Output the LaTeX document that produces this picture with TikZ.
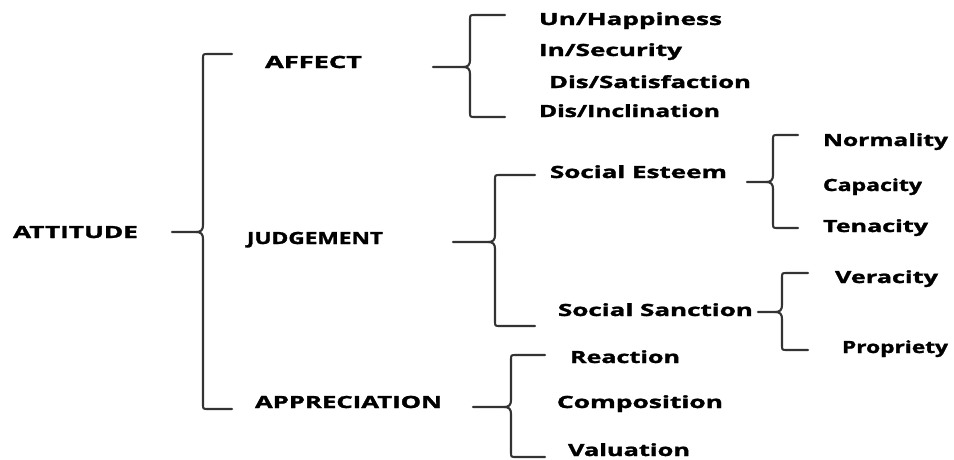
\documentclass[tikz,border=0pt]{standalone}
\usepackage{fontspec}
\usepackage{graphicx}
\setmainfont{Open Sans}[BoldFont={* Bold}, BoldFeatures={FakeBold=1.4}]
\tikzset{
  lbl/.style={anchor=base west, inner sep=0pt, outer sep=0pt, font=\fontsize{16.8}{20}\selectfont\bfseries, text=black},
  bracestyle/.style={draw=black!80, line width=2.1pt, line cap=round, line join=round}
}
\newcommand\tx[2]{\resizebox{#1pt}{\height}{#2}}
% #1=X vertical, #2=top, #3=bottom, #4=tip y, #5=arm end x, #6=stub start x
\newcommand\mybrace[6]{%
  \draw[bracestyle] (#5,#2) -- (#1+5,#2) .. controls (#1,#2) .. (#1,#2+5) -- (#1,#4-7)
     .. controls (#1,#4-2) and (#1-2,#4) .. (#1-7,#4) -- (#6,#4);
  \draw[bracestyle] (#1-7,#4) .. controls (#1-2,#4) and (#1,#4+2) .. (#1,#4+7) -- (#1,#3-5)
     .. controls (#1,#3) .. (#1+5,#3) -- (#5,#3);
}
\begin{document}
\begin{tikzpicture}[x=1pt,y=-1pt]
\useasboundingbox[fill=white] (0,0) rectangle (954,459);
% nodes
\node[lbl] (att) at (13,238) {\tx{125}{ATTITUDE}};
\node[lbl] (aff) at (265,68) {\tx{97}{AFFECT}};
\node[lbl] (jud) at (247,244) {\tx{136}{JUDGEMENT}};
\node[lbl] (app) at (255,408) {\tx{187}{APPRECIATION}};
\node[lbl] (unh) at (539,25) {\tx{183}{Un/Happiness}};
\node[lbl] (ins) at (539,56) {\tx{143}{In/Security}};
\node[lbl] (dss) at (549,88) {\tx{202}{Dis/Satisfaction}};
\node[lbl] (dsi) at (539,117) {\tx{181}{Dis/Inclination}};
\node[lbl] (ses) at (550,178) {\tx{177}{Social Esteem}};
\node[lbl] (ssa) at (558,316) {\tx{195}{Social Sanction}};
\node[lbl] (nor) at (823,146) {\tx{125}{Normality}};
\node[lbl] (cap) at (823,191) {\tx{99}{Capacity}};
\node[lbl] (ten) at (823,232) {\tx{105}{Tenacity}};
\node[lbl] (ver) at (835,283) {\tx{103}{Veracity}};
\node[lbl] (pro) at (842,353) {\tx{106}{Propriety}};
\node[lbl] (rea) at (570,363) {\tx{110}{Reaction}};
\node[lbl] (com) at (557,408) {\tx{166}{Composition}};
\node[lbl] (val) at (568,456) {\tx{122}{Valuation}};
% braces
\mybrace{203}{54}{409}{232}{232}{172}
\mybrace{470}{15}{117}{67}{505}{433}
\mybrace{495}{175}{326}{242}{535}{453}
\mybrace{773}{135}{228}{182}{798}{747}
\mybrace{782}{273}{350}{312}{808}{758}
\mybrace{511}{355}{457}{407}{545}{473}
\end{tikzpicture}
\end{document}
